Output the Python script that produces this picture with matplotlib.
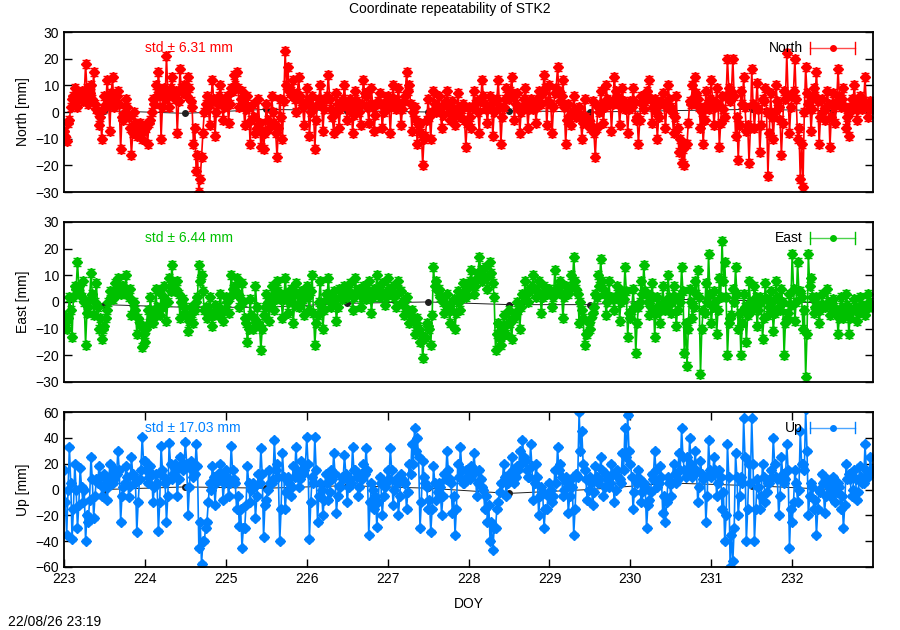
import matplotlib
matplotlib.use('Agg')
import matplotlib.pyplot as plt

plt.rcParams['font.family'] = ['Liberation Sans', 'DejaVu Sans']
plt.rcParams['font.size'] = 10

# main samples every 48 min (30 per day), one row = half a day;
# *_mid are the samples 24 min later (in between)
doy_start = 223.0
per_day = 30

north = [
    -7, -11, -3, 5, 9, 2, 7, 4, 18, 3, 10, 15, 1, -5, -10,
    6, 12, -7, 13, 4, 8, -14, -3, 5, -2, -16, 0, -9, -4, -10,
    -5, -12, -3, 5, 10, 15, -10, 9, 21, 2, 13, 5, -8, 16, 7,
    8, 13, 4, -12, -22, -30, -17, 0, 6, -5, 12, -9, 3, 10, -3,
    5, -4, 9, 14, 15, 2, 8, -5, 6, -12, 3, -8, 5, -13, -14,
    3, -6, 6, -4, -17, 5, -10, 23, 17, 8, 12, 0, 13, 4, -5,
    9, -9, 6, -14, 3, 10, -7, 5, 14, 1, -8, 7, -6, 4, 10,
    -3, 5, -8, 8, 2, -5, 12, 6, -4, 9, -7, 3, 7, -6, 2,
    6, -8, 10, 1, 9, -5, 4, 15, 10, -7, 2, -12, -4, -20, -9,
    5, -10, 8, 0, 6, -6, 3, 8, -3, 4, -5, 7, -2, 3, -13,
    2, -6, 8, 4, -8, 12, 3, -4, 6, -9, 4, 12, -12, 2, 9,
    5, 13, -3, 7, -8, 2, 9, -6, 5, 1, -4, 8, 3, 14, -5,
    10, -8, 7, 17, 4, 12, -12, 3, -5, 6, -2, 2, -10, 5, -4,
    -6, 4, -17, 2, 8, -4, 10, 3, -7, 13, 6, -5, 9, 1, -8,
    4, 9, -3, -12, 6, 1, 8, 12, -4, 5, -10, 3, 7, -6, 10,
    2, -8, 6, -15, -19, -20, -12, 4, 10, 13, 5, -6, -12, 8, 1,
    12, -5, 9, -13, 6, -2, 20, 4, 20, -9, -18, 8, 13, -7, -19,
    16, -6, 11, -15, 5, 9, -24, 7, -10, 10, 2, -16, 8, 22, -8,
    6, 20, -10, -25, -28, 17, 3, -7, 9, 15, -12, 5, -3, 8, -13,
    7, -4, 16, 2, 9, -6, -9, 5, 10, -3, 6, 1, 13, -2, 4,
]
north_mid = [
    -9, -4, 2, 6, 4, 5, 8, 6, 9, 7, 5, 3, 0, -2, 1,
    3, 5, 7, 2, 6, 3, -2, 0, 2, -6, -8, -4, -6, -8, -7,
    -6, -4, 0, 3, 6, 8, 2, 5, 7, 9, 6, 8, 4, 9, 10,
    6, 9, 2, -6, -16, -25, -8, 3, 2, 4, 5, 0, 6, 4, 2,
    6, 3, 8, 10, 9, 5, 4, 1, 2, -3, -2, -6, -4, -7, -8,
    -3, -4, 0, -8, -6, -2, 4, 10, 8, 6, 5, 7, 6, 2, 3,
    4, 0, 2, -3, 5, 4, 1, 6, 5, -2, 0, 3, 1, 5, 3,
    1, 2, -1, 4, 0, 3, 7, 2, 3, 2, -1, 4, 3, 0, 4,
    2, 3, 5, 4, 3, 1, 6, 8, 3, 0, -3, -5, -8, -10, -3,
    -2, 0, 3, 2, 1, -1, 4, 2, 0, 1, -1, 2, 1, -3, -4,
    -2, 2, 3, 0, 4, 6, 1, 2, 3, 0, 5, 2, -2, 5, 6,
    8, 6, 3, 2, 0, 5, 4, 1, 3, 4, 2, 6, 7, 9, 4,
    3, 2, 9, 8, 6, 2, -3, -1, 0, 1, 0, -2, -4, -2, -3,
    -5, -8, -6, 0, 3, 2, 5, 4, 3, 8, 5, 2, 4, 3, 1,
    2, 4, -2, -3, 3, 4, 6, 5, 2, 0, -2, 4, 3, 2, 5,
    0, -2, -6, -10, -14, -12, -4, 3, 5, 7, 2, 0, -3, 3, 5,
    4, 2, 3, -4, 1, 6, 9, 8, 6, -2, -5, 3, 2, -5, -6,
    3, 2, 1, -5, 4, 0, -8, -2, 0, 4, -3, -4, 5, 6, 2,
    8, 5, -6, -12, 0, 7, 4, 1, 6, 4, -2, 0, 2, 3, -2,
    2, 4, 6, 5, 2, -2, 0, 3, 4, 1, 2, 4, 3, 2, 1,
]

east = [
    -5, -10, 2, -13, 6, 15, 3, 8, -16, -2, 11, -5, 7, -10, -14,
    -9, -3, 4, 1, 7, 9, 3, 6, 10, 2, -5, 0, -12, -8, -17,
    -15, -3, 2, -8, 5, -4, 3, 6, -7, 9, 14, 4, 8, -6, 1,
    -4, -11, -2, -8, 0, 14, 10, -3, -6, 2, -9, -1, -5, 3, -7,
    2, -4, 10, 5, 9, -2, 7, -6, -15, 1, -10, 6, -8, -18, -5,
    3, -7, 6, -3, 8, 1, -6, 9, -4, 5, -8, 7, -2, 4, -5,
    6, -3, 10, -16, -5, 8, -10, 3, 9, -2, 4, -7, 5, 1, 6,
    2, 7, -3, 9, 4, -2, 6, 1, 8, -4, 5, 10, 2, 7, -1,
    9, 3, 6, -2, 8, 4, -5, 2, -8, -3, -12, -6, -15, -21, -13,
    -9, -16, 13, 8, 5, 2, -4, 3, -8, 0, -10, 4, -3, 7, 2,
    6, 12, 3, 9, 17, 8, 13, 5, 15, 7, -18, -8, -16, -5, -12,
    -3, -14, -6, 0, -10, 3, 8, 0, 5, 10, 2, 8, -4, 6, 3,
    5, -2, 12, 4, 8, -6, 6, 3, 10, 17, 5, -8, -3, -16, -12,
    -10, -4, 3, 10, 16, 5, -5, 8, 2, -3, 6, -7, 4, 13, -13,
    -6, 5, -19, -2, 8, 14, 3, -5, 7, -13, 2, -8, 6, -3, 10,
    -4, 6, -9, 2, 13, -19, -24, 5, -6, 8, 12, -27, -3, 7, 18,
    -8, 4, -12, 9, 23, 15, -20, -6, 5, 13, -10, -20, 3, -15, 8,
    -3, 6, -9, 2, -14, 7, -5, 4, -11, 8, -2, 5, -20, -6, 3,
    18, -7, 15, 4, -10, -28, 18, 9, -4, 2, -8, 3, -2, 5, -5,
    1, -4, -12, 2, -6, 3, -12, -3, 1, -7, 2, -2, -5, 3, -1,
]
east_mid = [
    -8, -6, -3, 2, 5, 6, 2, 0, -4, 1, 3, 0, -2, -6, -10,
    -6, 0, 2, 4, 3, 5, 6, 4, 3, 5, 0, -3, -6, -9, -12,
    -10, -8, -4, -6, -2, -5, -2, 1, 0, 4, 6, 5, 3, 0, -2,
    -5, -7, -4, -3, 2, 8, 4, -2, -3, -4, -5, -3, -2, -4, -3,
    0, 2, 5, 6, 3, 1, 0, -8, -10, -5, -6, -2, -9, -10, -2,
    0, -1, 2, 1, 4, 2, 1, 3, 0, 2, -1, 3, 0, 1, 2,
    2, 4, -4, -8, 0, -2, -3, 1, 2, 0, 1, -2, 2, 3, 4,
    4, 3, 2, 4, 5, 2, 3, 4, 3, 2, 4, 5, 4, 3, 2,
    5, 4, 2, 3, 4, 0, -2, -4, -5, -7, -8, -10, -12, -14, -8,
    -10, -5, 6, 4, 2, 0, -1, -2, -3, 1, -4, 0, 2, 3, 5,
    8, 7, 6, 11, 12, 10, 9, 10, 11, 2, -12, -14, -10, -9, -8,
    -8, -6, -4, -3, -2, 2, 3, 4, 6, 5, 4, 3, 2, 4, 5,
    3, 2, 5, 6, 3, 2, 4, 5, 6, 8, 3, 0, -6, -12, -8,
    -6, -2, 2, 6, 8, 3, 0, 2, 1, 2, 3, 0, 1, 4, -4,
    -3, -2, -8, 0, 3, 4, 0, -2, 2, -4, -1, -3, 0, -2, 2,
    0, 2, -3, 0, 4, -8, -10, 0, -2, 3, 2, -10, -4, 0, 3,
    -2, 0, -3, 2, 8, 2, -8, -5, 0, 3, -4, -8, -2, -5, 0,
    -1, 2, -3, 0, -6, 1, -2, 0, -4, 2, -3, 0, -8, -4, -1,
    5, 0, 4, 2, -3, -12, 6, 2, -2, -1, -3, -1, -1, 0, -2,
    -2, -3, -6, -2, -4, -1, -6, -3, -2, -4, -1, -2, -3, 0, -2,
]

up = [
    15, -35, 33, -38, 20, -30, 17, -10, -40, -25, 25, -22, 8, 18, -5,
    12, -8, 20, 5, 15, 30, -25, 2, 18, -6, 25, 10, -33, 8, 41,
    22, 5, 18, -10, 12, -32, 34, 10, -25, 36, 8, 20, -5, 25, 15,
    37, -20, 22, 10, 35, -45, -58, -40, -25, 5, 18, -12, 12, 20, -8,
    15, -5, 34, 8, -15, -28, -45, -30, 18, -10, 5, -22, 12, 32, -37,
    -8, 15, 5, 38, 20, -40, 28, -15, 10, -5, 18, 33, 2, 22, 15,
    41, -38, 10, 41, -25, 5, -20, 12, -8, 15, 28, -18, 3, 10, 27,
    -10, 8, 33, 15, -5, 12, 20, 32, -35, 5, -15, -29, 10, -20, 2,
    15, 32, -12, 8, -20, 12, 5, -15, 20, 35, 48, 40, -30, 22, 5,
    -15, -33, 18, -8, 5, -20, 12, 30, 8, -18, -35, 20, 33, 5, 15,
    10, 18, 28, -5, 15, 2, -15, -25, -40, -47, -30, -10, 5, 20, -5,
    12, 25, 5, 18, 30, 38, 22, 10, 35, -8, 20, -20, 2, -30, -15,
    5, -10, 15, 33, 20, -5, 10, -18, 8, -35, 12, 60, 45, 15, -8,
    10, -12, 18, 5, 25, -5, 12, 2, 20, -10, 15, 8, 28, 48, 58,
    20, -15, 8, 15, -10, 5, -30, -8, 12, 30, 2, 18, -18, -25, 10,
    -5, 20, 5, 28, 48, 15, 25, 40, 10, 30, -10, 22, 8, -25, 38,
    10, 25, -5, 15, -15, -40, 35, -60, -55, 28, -20, 10, 55, -40, 20,
    55, -40, 8, -15, 20, -10, 5, 15, 40, 10, -20, 25, 5, 35, -45,
    -25, 15, -10, 45, 20, 62, -20, 5, -15, -35, 0, 12, -18, 8, -5,
    10, -10, 5, -15, -30, 20, 12, -5, 15, -8, 18, 5, 35, 10, 25,
]
up_mid = [
    -10, 0, 5, -15, 0, -12, 2, 0, -20, -8, 8, -5, 5, 10, 2,
    5, 2, 10, 8, 12, 15, -5, 5, 10, 3, 12, 5, -10, 15, 22,
    15, 10, 12, 2, 5, -10, 15, 5, -5, 20, 12, 15, 8, 18, 20,
    20, 2, 15, 12, 18, -25, -40, -30, -10, 0, 10, 5, 8, 12, 5,
    10, 5, 15, 5, -5, -15, -30, -12, 5, 0, 2, -5, 5, 12, -12,
    0, 5, 8, 15, 10, -15, 10, -2, 5, 2, 10, 15, 8, 12, 18,
    20, -10, 5, 15, -5, 0, -8, 5, -2, 8, 12, -5, 2, 8, 12,
    2, 5, 15, 10, 2, 8, 12, 15, -10, 0, -5, -10, 5, -5, 5,
    8, 15, 0, 5, -5, 8, 5, -2, 12, 20, 30, 25, -10, 10, 2,
    -8, -15, 5, -2, 2, -5, 8, 15, 5, -5, -15, 10, 15, 5, 10,
    8, 12, 15, 5, 8, 0, -5, -12, -25, -30, -15, -2, 5, 10, 5,
    10, 15, 10, 15, 20, 25, 15, 10, 18, 5, 10, -5, -2, -15, -5,
    0, -5, 5, 15, 10, 0, 5, -5, 2, -15, 10, 30, 20, 8, 0,
    5, -2, 10, 8, 15, 2, 8, 5, 12, 0, 10, 5, 15, 25, 30,
    10, -2, 5, 8, -2, 2, -12, -2, 8, 15, 5, 10, -5, -10, 5,
    5, 12, 8, 15, 25, 10, 15, 20, 12, 15, 2, 12, 10, -5, 15,
    12, 15, 5, 10, -2, -20, 10, -35, -30, 10, -5, 5, 25, -15, 5,
    20, -15, 2, -5, 10, -2, 5, 10, 20, 8, -5, 12, 8, 15, -15,
    -10, 5, 0, 20, 15, 30, -5, 2, -8, -15, -2, 5, -5, 2, 0,
    5, -2, 2, -5, -12, 8, 8, 0, 8, -2, 10, 5, 15, 12, 15,
]

# daily solutions (black), plotted at mid-day
daily_doy = [223.5, 224.5, 225.5, 226.5, 227.5, 228.5, 229.5, 230.5, 231.5, 232.5]
north_daily = [0.5, -0.5, 1.0, 0.5, 0.0, 0.5, 0.0, 0.5, 1.0, 0.5]
east_daily = [-1.0, -2.0, -2.0, -0.5, 0.0, -1.0, -1.0, 1.0, 0.5, -0.5]
up_daily = [0.0, 2.0, 1.0, 3.0, 1.0, -3.0, 0.0, 5.0, 3.0, 0.0]

err_mm = 1.5
std_text = ['std \u00b1 6.31 mm', 'std \u00b1 6.44 mm', 'std \u00b1 17.03 mm']
names = ['North', 'East', 'Up']
colors = ['#ff0000', '#00c000', '#0080ff']
ylims = [(-30, 30), (-30, 30), (-60, 60)]
yticks = [range(-30, 31, 10), range(-30, 31, 10), range(-60, 61, 20)]
series = [(north, north_mid), (east, east_mid), (up, up_mid)]
dailies = [north_daily, east_daily, up_daily]
day_ticks = list(range(223, 233))


def merge(main, mid):
    xs, ys = [], []
    for i in range(len(main)):
        xs.append(doy_start + i / per_day)
        ys.append(main[i])
        xs.append(doy_start + (i + 0.5) / per_day)
        ys.append(mid[i])
    return xs, ys


fig = plt.figure(figsize=(9, 6.3), dpi=100)
boxes = [[0.0711, 0.6952, 0.899, 0.254],
         [0.0711, 0.3937, 0.899, 0.254],
         [0.0711, 0.1000, 0.899, 0.246]]

for k in range(3):
    ax = fig.add_axes(boxes[k])
    c = colors[k]
    xs, ys = merge(*series[k])
    ax.plot(daily_doy, dailies[k], '-o', color='#202020', lw=0.7, ms=4, zorder=1)
    ax.errorbar(xs, ys, yerr=err_mm, fmt='-D', color=c, ms=5.6,
                lw=1.2, elinewidth=1.1, capsize=3, zorder=2)
    ax.set_xlim(223, 233)
    ax.set_ylim(*ylims[k])
    ax.set_yticks(list(yticks[k]))
    ax.set_ylabel(names[k] + ' [mm]', labelpad=4)
    ax.tick_params(axis='y', direction='in', right=True, length=5.5, width=1)
    if k < 2:
        ax.set_xticks([])
    else:
        ax.set_xticks(day_ticks)
        ax.tick_params(axis='x', direction='in', top=True, length=5.5, width=1)
        ax.set_xlabel('DOY', labelpad=8)
    for sp in ax.spines.values():
        sp.set_linewidth(1.3)
    ax.text(0.1, 0.9, std_text[k], color=c, transform=ax.transAxes,
            va='center', ha='left', zorder=5)
    # gnuplot style key: label + errorbar sample
    ax.text(0.913, 0.9, names[k], transform=ax.transAxes, ha='right',
            va='center', zorder=5)
    ax.plot([0.922, 0.978], [0.9, 0.9], color=c, lw=1, transform=ax.transAxes,
            zorder=5, alpha=0.7)
    ax.plot([0.922, 0.922], [0.865, 0.935], color=c, lw=1, transform=ax.transAxes, zorder=5)
    ax.plot([0.978, 0.978], [0.865, 0.935], color=c, lw=1, transform=ax.transAxes, zorder=5)
    ax.plot([0.95], [0.9], 'o', color=c, ms=4, transform=ax.transAxes, zorder=5)

fig.text(0.5, 0.985, 'Coordinate repeatability of STK2', ha='center', va='center')
fig.text(0.009, 0.012, '22/08/26 23:19', ha='left', va='center')

fig.savefig('out.png', dpi=100)
